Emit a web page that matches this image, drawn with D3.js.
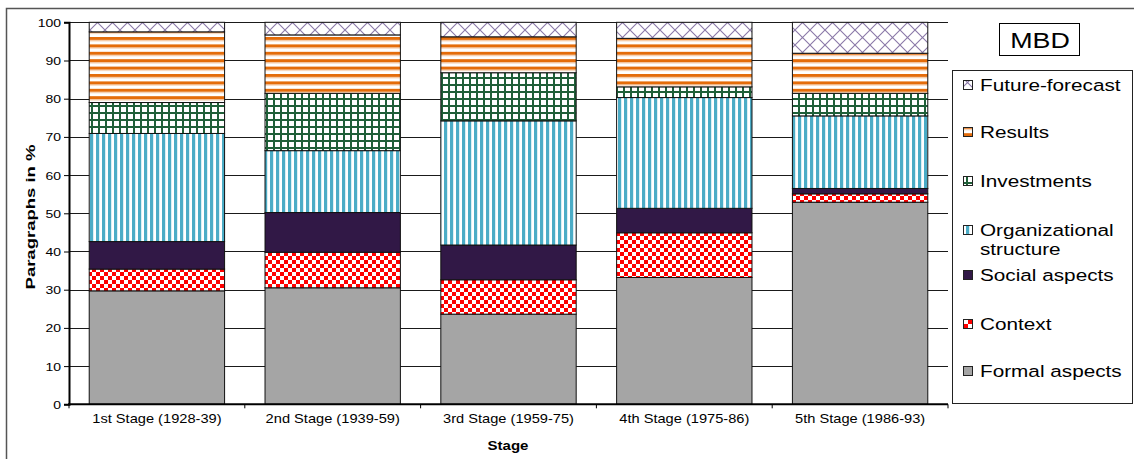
<!DOCTYPE html>
<html>
<head>
<meta charset="utf-8">
<script src="https://cdn.jsdelivr.net/npm/d3@7"></script>
<style>
  html, body { margin: 0; padding: 0; background: #fff; }
  svg { display: block; }
  text { font-family: "Liberation Sans", Arial, sans-serif; }
</style>
</head>
<body>
<svg id="chart" width="1134" height="459"></svg>
<script>
// ---------- data ----------
const categories = ["1st Stage (1928-39)", "2nd Stage (1939-59)", "3rd Stage (1959-75)", "4th Stage (1975-86)", "5th Stage (1986-93)"];
const seriesNames = ["Formal aspects", "Context", "Social aspects", "Organizational structure", "Investments", "Results", "Future-forecast"];
const formalAspects   = [29.7, 30.5, 23.6, 33.2, 52.9];
const context         = [5.7, 9.3, 9.0, 11.7, 2.2];
const socialAspects   = [7.2, 10.4, 9.1, 6.4, 1.4];
const organizational  = [28.3, 16.2, 32.5, 29.0, 19.0];
const investments     = [8.1, 15.0, 12.6, 2.8, 5.9];
const results         = [18.5, 15.3, 9.4, 12.7, 10.5];
const futureForecast  = [2.5, 3.3, 3.8, 4.2, 8.1];
const yTicks = [0, 10, 20, 30, 40, 50, 60, 70, 80, 90, 100];
const chartTitle = "MBD";
const xTitle = "Stage";
const yTitle = "Paragraphs in %";

const seriesValues = [formalAspects, context, socialAspects, organizational, investments, results, futureForecast];
const table = categories.map((c, i) => {
  const row = { cat: c };
  seriesNames.forEach((s, j) => row[s] = seriesValues[j][i]);
  return row;
});

// ---------- setup ----------
const svg = d3.select("#chart");
const SX = 1.27; // horizontal stretch of the reference's lettering

function stretchedText(g, x, y, str, opts) {
  const t = g.append("text")
    .attr("transform", `translate(${x},${y}) scale(${opts.sx || SX},1)`)
    .attr("text-anchor", opts.anchor || "start")
    .attr("font-size", opts.size)
    .attr("font-weight", opts.weight || "normal")
    .attr("fill", opts.fill || "#000")
    .text(str);
  if (opts.dy) t.attr("dy", opts.dy);
  return t;
}

// patterns
const defs = svg.append("defs");
// Context: red checkerboard
let p = defs.append("pattern").attr("id", "pContext").attr("patternUnits", "userSpaceOnUse").attr("width", 8).attr("height", 8);
p.append("rect").attr("width", 8).attr("height", 8).attr("fill", "#fff");
p.append("rect").attr("x", 0).attr("y", 0).attr("width", 4).attr("height", 4).attr("fill", "#ff0000");
p.append("rect").attr("x", 4).attr("y", 4).attr("width", 4).attr("height", 4).attr("fill", "#ff0000");
// Organizational: cyan vertical stripes
p = defs.append("pattern").attr("id", "pOrg").attr("patternUnits", "userSpaceOnUse").attr("width", 6).attr("height", 6);
p.append("rect").attr("width", 6).attr("height", 6).attr("fill", "#fff");
p.append("rect").attr("x", 0).attr("width", 3.2).attr("height", 6).attr("fill", "#4bacc6");
// Investments: green grid
p = defs.append("pattern").attr("id", "pInv").attr("patternUnits", "userSpaceOnUse").attr("width", 7).attr("height", 7);
p.append("rect").attr("width", 7).attr("height", 7).attr("fill", "#fff");
p.append("rect").attr("x", 0).attr("width", 2).attr("height", 7).attr("fill", "#1f5f38");
p.append("rect").attr("y", 0).attr("width", 7).attr("height", 2).attr("fill", "#1f5f38");
// Results: orange horizontal stripes
p = defs.append("pattern").attr("id", "pRes").attr("patternUnits", "userSpaceOnUse").attr("width", 7).attr("height", 7.4);
p.append("rect").attr("width", 7).attr("height", 7.4).attr("fill", "#fff");
p.append("rect").attr("y", 0).attr("width", 7).attr("height", 3.2).attr("fill", "#e46c0a");
p.append("rect").attr("y", 3.2).attr("width", 7).attr("height", 1).attr("fill", "#f5c9a4");
// Future: diagonal crosshatch
p = defs.append("pattern").attr("id", "pFut").attr("patternUnits", "userSpaceOnUse").attr("width", 15).attr("height", 15);
p.append("rect").attr("width", 15).attr("height", 15).attr("fill", "#fff");
p.append("path").attr("d", "M0,0L15,15M15,0L0,15").attr("stroke", "#8a78a8").attr("stroke-width", 1.1).attr("fill", "none");

const fills = {
  "Formal aspects": "#a5a5a5",
  "Context": "url(#pContext)",
  "Social aspects": "#311846",
  "Organizational structure": "url(#pOrg)",
  "Investments": "url(#pInv)",
  "Results": "url(#pRes)",
  "Future-forecast": "url(#pFut)"
};

// outer frame
svg.append("rect").attr("x", 6.5).attr("y", 8.5).attr("width", 1140).attr("height", 470)
  .attr("fill", "none").attr("stroke", "#555").attr("stroke-width", 1.5);

// scales
const x = d3.scaleBand().domain(categories).range([69, 948]).paddingInner(0.23).paddingOuter(0.115);
const y = d3.scaleLinear().domain([0, 100]).range([404.3, 22.3]);

// gridlines
svg.append("g").selectAll("line").data(yTicks.filter(d => d > 0)).join("line")
  .attr("x1", 69).attr("x2", 948)
  .attr("y1", d => Math.round(y(d)) + 0.5).attr("y2", d => Math.round(y(d)) + 0.5)
  .attr("stroke", "#1a1a1a").attr("stroke-width", 1);

// bars
const stack = d3.stack().keys(seriesNames);
const stacked = stack(table);
const barG = svg.append("g");
stacked.forEach(layer => {
  barG.append("g").selectAll("rect").data(layer).join("rect")
    .attr("x", d => x(d.data.cat))
    .attr("width", x.bandwidth())
    .attr("y", d => y(d[1]))
    .attr("height", d => y(d[0]) - y(d[1]))
    .attr("fill", fills[layer.key])
    .attr("stroke", "#111").attr("stroke-width", 1);
});

// y axis
const yAxis = svg.append("g").attr("transform", "translate(69,0)")
  .call(d3.axisLeft(y).tickValues(yTicks).tickSize(5).tickPadding(3).tickFormat(d3.format("d")));
yAxis.select(".domain").attr("stroke", "#000").attr("stroke-width", 2);
yAxis.selectAll(".tick line").attr("stroke", "#000");
yAxis.selectAll(".tick text").remove();
yAxis.selectAll(".tick").each(function(d) {
  stretchedText(d3.select(this), -8, 4, String(d), { size: 11, anchor: "end" });
});

// x axis
const xAxis = svg.append("g").attr("transform", `translate(0,${y(0)})`)
  .call(d3.axisBottom(x).tickSize(0).tickPadding(0));
xAxis.select(".domain").remove();
xAxis.selectAll(".tick text").remove();
xAxis.selectAll(".tick").each(function(d) {
  stretchedText(d3.select(this), 0, 19, d, { size: 12, anchor: "middle", sx: 1.22 });
});
svg.append("line").attr("x1", 68).attr("x2", 948).attr("y1", y(0)).attr("y2", y(0))
  .attr("stroke", "#000").attr("stroke-width", 2);
const step = x.step();
const bounds = categories.map(c => x(c) - x.paddingInner() * step / 2).concat([948]);
svg.append("g").selectAll("line").data(bounds).join("line")
  .attr("x1", d => d).attr("x2", d => d)
  .attr("y1", y(0)).attr("y2", y(0) + 4)
  .attr("stroke", "#000").attr("stroke-width", 1);

// axis titles
stretchedText(svg, 508, 450, xTitle, { size: 12, anchor: "middle", weight: "bold", sx: 1.25 });
svg.append("text")
  .attr("transform", `translate(35,217) rotate(-90) scale(1.37,1)`)
  .attr("text-anchor", "middle")
  .attr("font-size", 13.5).attr("font-weight", "bold")
  .text(yTitle);

// title box
svg.append("rect").attr("x", 999.5).attr("y", 23.5).attr("width", 80).attr("height", 32)
  .attr("fill", "#fff").attr("stroke", "#000").attr("stroke-width", 1);
stretchedText(svg, 1040, 47.5, chartTitle, { size: 22, anchor: "middle", sx: 1.22 });

// legend
const legend = svg.append("g");
legend.append("rect").attr("x", 952.5).attr("y", 70.5).attr("width", 180).attr("height", 333)
  .attr("fill", "#fff").attr("stroke", "#222").attr("stroke-width", 1);
const legendItems = [
  { key: "Future-forecast", lines: ["Future-forecast"], y: 85 },
  { key: "Results", lines: ["Results"], y: 132 },
  { key: "Investments", lines: ["Investments"], y: 181 },
  { key: "Organizational structure", lines: ["Organizational", "structure"], y: 230 },
  { key: "Social aspects", lines: ["Social aspects"], y: 275 },
  { key: "Context", lines: ["Context"], y: 324 },
  { key: "Formal aspects", lines: ["Formal aspects"], y: 371 }
];
legendItems.forEach(it => {
  legend.append("rect").attr("x", 963.5).attr("y", it.y - 4.5).attr("width", 9).attr("height", 9)
    .attr("fill", fills[it.key]).attr("stroke", "#222").attr("stroke-width", 1);
  it.lines.forEach((ln, k) => {
    stretchedText(legend, 980, it.y + 6 + k * 19, ln, { size: 17, sx: 1.22 });
  });
});
</script>
</body>
</html>
